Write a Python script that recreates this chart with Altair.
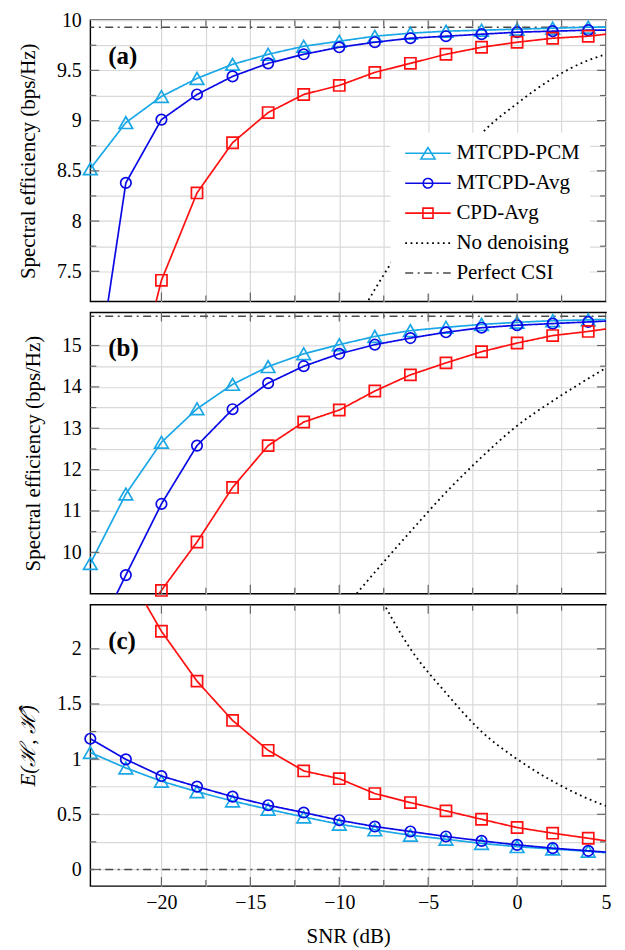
import altair as alt
import pandas as pd

# ---------------- data ----------------
snr = [-24, -22, -20, -18, -16, -14, -12, -10, -8, -6, -4, -2, 0, 2, 4, 5]
noden_snr = [-10, -8, -6, -4, -2, 0, 2, 4, 5]
series_names = ["MTCPD-PCM", "MTCPD-Avg", "CPD-Avg", "No denoising", "Perfect CSI"]

# panel (a): spectral efficiency, setting 1
pcm_a = [8.52, 8.98, 9.24, 9.42, 9.56, 9.66, 9.74, 9.79, 9.84, 9.87, 9.89, 9.90, 9.91, 9.92, 9.93, 9.93]
avg_a = [6.02, 8.38, 9.01, 9.26, 9.44, 9.57, 9.66, 9.73, 9.78, 9.82, 9.84, 9.86, 9.88, 9.89, 9.90, 9.90]
cpd_a = [4.50, 6.00, 7.41, 8.28, 8.78, 9.08, 9.26, 9.35, 9.48, 9.57, 9.66, 9.73, 9.78, 9.82, 9.84, 9.86]
noden_a = [6.70, 7.32, 7.88, 8.40, 8.87, 9.17, 9.42, 9.60, 9.66]
perfect_a = [9.93]

# panel (b): spectral efficiency, setting 2
pcm_b = [9.73, 11.41, 12.66, 13.47, 14.06, 14.49, 14.80, 15.02, 15.22, 15.36, 15.44, 15.51, 15.56, 15.60, 15.62, 15.63]
avg_b = [7.70, 9.45, 11.17, 12.58, 13.46, 14.09, 14.50, 14.80, 15.02, 15.18, 15.32, 15.43, 15.49, 15.53, 15.57, 15.59]
cpd_b = [6.60, 7.90, 9.08, 10.25, 11.57, 12.58, 13.15, 13.44, 13.90, 14.29, 14.58, 14.85, 15.06, 15.24, 15.34, 15.40]
noden_b = [8.50, 9.52, 10.50, 11.45, 12.30, 13.06, 13.66, 14.20, 14.46]
perfect_b = [15.71]

# panel (c): estimation error E(H, H^)
pcm_c = [1.06, 0.92, 0.80, 0.705, 0.62, 0.546, 0.476, 0.41, 0.359, 0.31, 0.274, 0.236, 0.207, 0.185, 0.165, 0.152]
avg_c = [1.185, 0.998, 0.847, 0.751, 0.66, 0.582, 0.516, 0.446, 0.389, 0.344, 0.299, 0.259, 0.223, 0.193, 0.169, 0.157]
cpd_c = [3.50, 2.72, 2.159, 1.707, 1.351, 1.08, 0.893, 0.823, 0.688, 0.606, 0.531, 0.455, 0.38, 0.329, 0.283, 0.259]
noden_c = [3.20, 2.56, 2.00, 1.60, 1.25, 1.00, 0.80, 0.64, 0.575]
perfect_c = [0.0]

# axis tick values
x_major = [-20, -15, -10, -5, 0]
x_minor = [-17.5, -12.5, -7.5, -2.5, 2.5]
x_labels = x_major + [5]
ya_major = [7.5, 8, 8.5, 9, 9.5]
ya_minor = [7.75, 8.25, 8.75, 9.25, 9.75]
ya_top = [10]
yb_major = [10, 11, 12, 13, 14, 15]
yb_minor = [10.5, 11.5, 12.5, 13.5, 14.5]
yc_major = [0, 0.5, 1, 1.5, 2]
yc_minor = [0.25, 0.75, 1.25, 1.75]

# ---------------- styles ----------------
W, H = 517, 282
FONT = "Liberation Serif"
colors = ["#1aa7e6", "#0a0ae6", "#ff1010", "#000000", "#4a4a4a"]
dashes = [[1, 0], [1, 0], [1, 0], [1.8, 3.6], [8, 4.5, 2, 4.5]]
# legend glyphs: unit = 5.5 px (symbolSize 121); line is ~45 px long
legend_shapes = [
    "M-4.15,0H4.15M0,-1.05L-1.3,1.05L1.3,1.05Z",
    "M-4.15,0H4.15M0.87,0A0.87,0.87,0,1,1,-0.87,0A0.87,0.87,0,1,1,0.87,0Z",
    "M-4.15,0H4.15M-0.92,-0.92H0.92V0.92H-0.92Z",
    "M-4.15,0H4.15",
    "M-4.15,0H4.15",
]
marker_style = {
    "MTCPD-PCM": ("triangle-up", 185, colors[0]),
    "MTCPD-Avg": ("circle", 110, colors[1]),
    "CPD-Avg": ("square", 125, colors[2]),
}

color_scale = alt.Scale(domain=series_names, range=colors)
dash_scale = alt.Scale(domain=series_names, range=dashes)
shape_scale = alt.Scale(domain=series_names, range=legend_shapes)
xscale = alt.Scale(domain=[-24, 5], nice=False, zero=False)


def curves_df(pcm, avg, cpd):
    rows = []
    for name, vals in [("MTCPD-PCM", pcm), ("MTCPD-Avg", avg), ("CPD-Avg", cpd)]:
        for s, v in zip(snr, vals):
            rows.append({"series": name, "snr": s, "val": v})
    return pd.DataFrame(rows)


def noden_df(vals):
    return pd.DataFrame({"series": "No denoising", "snr": noden_snr, "val": vals})


def panel(label, pcm, avg, cpd, noden, perfect, ydom, ymaj, ymin, yextra, ystep_label,
          ytitle, show_x, legend=False, ytitle_style="normal"):
    yscale = alt.Scale(domain=ydom, nice=False, zero=False)
    yaxis = alt.Axis(
        values=sorted(ymaj + ymin + yextra),
        labelExpr=f"datum.value % {ystep_label} == 0 ? format(datum.value, '~g') : ''",
        title=ytitle, labelPadding=9, titlePadding=17.5, labelFlush=False,
        labelOverlap=False, titleFontStyle=ytitle_style,
    )
    xvals = sorted(x_minor + x_labels)
    if show_x:
        xaxis = alt.Axis(values=xvals,
                         labelExpr="datum.value % 5 == 0 ? format(datum.value, '~g') : ''",
                         title="SNR (dB)", labelPadding=7, titlePadding=13,
                         labelFlush=False, labelOverlap=False)
    else:
        xaxis = alt.Axis(values=xvals, labels=False, title=None)
    X = alt.X("snr:Q", scale=xscale, axis=xaxis)
    Y = alt.Y("val:Q", scale=yscale, axis=yaxis)
    col = alt.Color("series:N", scale=color_scale, legend=None)
    dsh = alt.StrokeDash("series:N", scale=dash_scale, legend=None)

    layers = []
    if legend:
        # legend carrier layer: first, so its legend definition wins the merge
        L = alt.Legend(title=None, orient="none", legendX=301, legendY=113,
                       fillColor="white", padding=10, symbolSize=121,
                       symbolOffset=17, symbolStrokeWidth=1.6, labelFont=FONT,
                       labelFontSize=21, labelColor="black", rowPadding=8,
                       labelOffset=18, symbolOpacity=1)
        ldf = pd.DataFrame({"series": series_names, "snr": [0.0] * 5, "val": [None] * 5})
        layers.append(
            alt.Chart(ldf)
            .mark_point(filled=False, opacity=1, size=121, strokeWidth=1.6)
            .encode(
                x=X, y=Y,
                color=alt.Color("series:N", scale=color_scale, legend=L),
                strokeDash=alt.StrokeDash("series:N", scale=dash_scale, legend=L),
                shape=alt.Shape("series:N", scale=shape_scale, legend=L),
            )
        )
    # perfect CSI
    layers.append(
        alt.Chart(pd.DataFrame({"series": "Perfect CSI", "val": perfect}))
        .mark_rule(strokeWidth=1.5)
        .encode(y=Y, color=col, strokeDash=dsh)
    )
    # no denoising
    layers.append(
        alt.Chart(noden_df(noden))
        .mark_line(clip=True, strokeWidth=1.8, interpolate="monotone")
        .encode(x=X, y=Y, color=col, strokeDash=dsh)
    )
    cdf = curves_df(pcm, avg, cpd)
    for name in ["MTCPD-PCM", "MTCPD-Avg", "CPD-Avg"]:
        shp, size, c = marker_style[name]
        base = alt.Chart(cdf).transform_filter(f"datum.series == '{name}'")
        layers.append(base.mark_line(clip=True, strokeWidth=1.7)
                      .encode(x=X, y=Y, color=col, strokeDash=dsh))
        layers.append(
            base.transform_filter(
                f"datum.snr <= 4 && datum.val >= {ydom[0]} && datum.val <= {ydom[1]}")
            .mark_point(shape=shp, size=size, filled=False, opacity=1,
                        strokeWidth=1.7, color=c)
            .encode(x=X, y=Y)
        )
    # inward ticks (same fields / axes as the data layers)
    tick_col = "#666666"
    for vals, Lt in [(ymaj, 9), (ymin, 6)]:
        tdf = pd.DataFrame({"val": vals})
        layers.append(alt.Chart(tdf).mark_rule(color=tick_col, strokeWidth=1.2)
                      .encode(y=Y, x=alt.value(0), x2=alt.value(Lt)))
        layers.append(alt.Chart(tdf).mark_rule(color=tick_col, strokeWidth=1.2)
                      .encode(y=Y, x=alt.value(W - Lt), x2=alt.value(W)))
    for vals, Lt in [(x_major, 9), (x_minor, 6)]:
        tdf = pd.DataFrame({"snr": vals})
        layers.append(alt.Chart(tdf).mark_rule(color=tick_col, strokeWidth=1.2)
                      .encode(x=X, y=alt.value(0), y2=alt.value(Lt)))
        layers.append(alt.Chart(tdf).mark_rule(color=tick_col, strokeWidth=1.2)
                      .encode(x=X, y=alt.value(H - Lt), y2=alt.value(H)))
    # panel label
    layers.append(
        alt.Chart(pd.DataFrame({"label": [label]}))
        .mark_text(align="left", baseline="middle", font=FONT, fontWeight="bold",
                   fontSize=25, color="black")
        .encode(x=alt.value(18), y=alt.value(36), text="label:N")
    )
    return alt.layer(*layers).properties(width=W, height=H)


pa = panel("(a)", pcm_a, avg_a, cpd_a, noden_a, perfect_a, [7.2, 10.0],
           ya_major, ya_minor, ya_top, 0.5, "Spectral efficiency (bps/Hz)", False, legend=True)
pb = panel("(b)", pcm_b, avg_b, cpd_b, noden_b, perfect_b, [9.0, 15.8],
           yb_major, yb_minor, [], 1, "Spectral efficiency (bps/Hz)", False)
pc = panel("(c)", pcm_c, avg_c, cpd_c, noden_c, perfect_c, [-0.15, 2.4],
           yc_major, yc_minor, [], 0.5, "E(ℋ, ℋ̂)", True, ytitle_style="italic")

chart = (
    alt.vconcat(pa, pb, pc, spacing=11, bounds="flush")
    .resolve_scale(color="independent", strokeDash="independent", shape="independent")
    .resolve_legend(color="independent", strokeDash="independent", shape="independent")
    .properties(padding={"left": 8.5, "top": 0, "right": 5, "bottom": 5})
    .configure_axis(labelFont=FONT, labelFontSize=20, titleFont=FONT, titleFontSize=21,
                    titleFontWeight="normal", labelColor="black", titleColor="black",
                    gridColor="#d9d9d9", gridWidth=1.2, domain=False, ticks=False)
    .configure_view(stroke="black", strokeWidth=1.4)
)

chart.save("out.html", embed_options={"renderer": "svg", "actions": False})
